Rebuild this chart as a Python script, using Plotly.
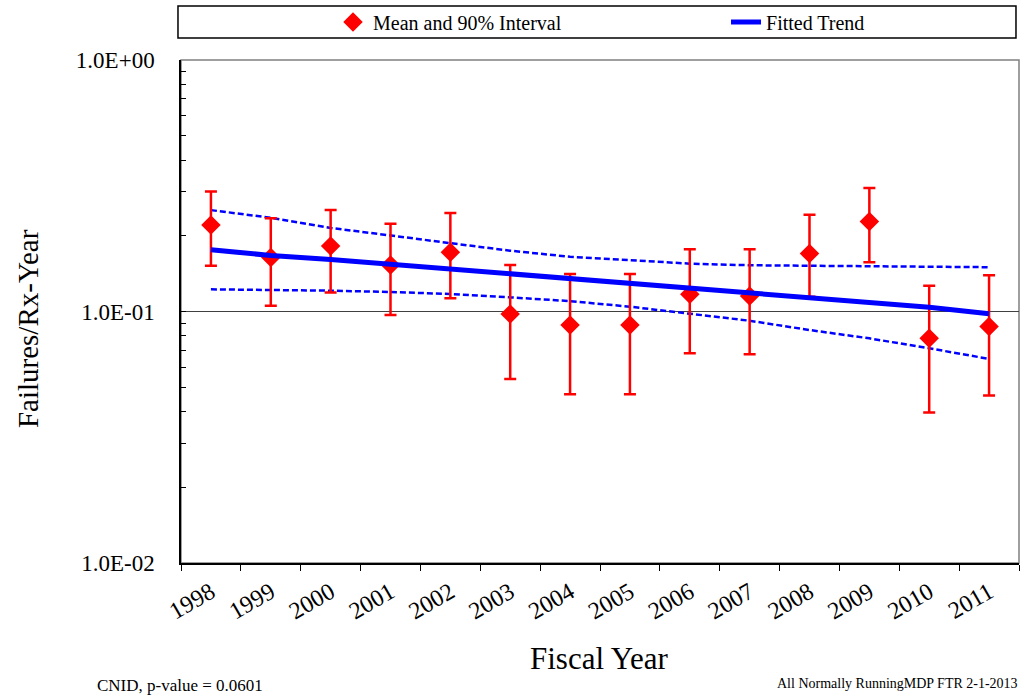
import plotly.graph_objects as go

years = ["1998", "1999", "2000", "2001", "2002", "2003", "2004",
         "2005", "2006", "2007", "2008", "2009", "2010", "2011"]
mean_vals = [0.221, 0.164, 0.182, 0.153, 0.172, 0.0977, 0.0884,
             0.0884, 0.117, 0.1153, 0.170, 0.228, 0.0782, 0.0871]
upper_90 = [0.300, 0.235, 0.253, 0.2235, 0.2464, 0.153, 0.141,
            0.141, 0.1768, 0.1768, 0.2426, 0.310, 0.1267, 0.1393]
lower_90 = [0.152, 0.1055, 0.119, 0.0968, 0.113, 0.0539, 0.0469,
            0.0469, 0.0682, 0.0676, 0.1145, 0.157, 0.0397, 0.0463]
trend = [0.176, 0.167, 0.161, 0.154, 0.148, 0.142, 0.136,
         0.130, 0.124, 0.119, 0.114, 0.109, 0.104, 0.098]
trend_upper = [0.253, 0.236, 0.215, 0.200, 0.187, 0.1745, 0.165,
               0.160, 0.155, 0.1527, 0.152, 0.151, 0.150, 0.150]
trend_lower = [0.1225, 0.122, 0.121, 0.1196, 0.1174, 0.1138, 0.110,
               0.1045, 0.0983, 0.0919, 0.0844, 0.0782, 0.0714, 0.0648]

y_tickvals = []
y_ticktext = []
for dec in [0.01, 0.1]:
    for m in range(1, 10):
        y_tickvals.append(dec * m)
        y_ticktext.append("%.1E" % (dec * m) if m == 1 else "")
y_tickvals.append(1.0)
y_ticktext.append("1.0E+00")

FONT = "Liberation Serif"

err_plus = [u - m for u, m in zip(upper_90, mean_vals)]
err_minus = [m - l for m, l in zip(mean_vals, lower_90)]

fig = go.Figure()

fig.add_trace(go.Scatter(
    x=years, y=trend_upper, mode="lines", showlegend=False,
    line=dict(color="#0000FF", width=2.5, dash="6px,3px"), hoverinfo="skip"))
fig.add_trace(go.Scatter(
    x=years, y=trend_lower, mode="lines", showlegend=False,
    line=dict(color="#0000FF", width=2.5, dash="6px,3px"), hoverinfo="skip"))
fig.add_trace(go.Scatter(
    x=years, y=mean_vals, mode="markers", name="Mean and 90% Interval",
    marker=dict(symbol="diamond", size=15, color="#FF0000"),
    error_y=dict(type="data", symmetric=False, array=err_plus,
                 arrayminus=err_minus, color="#FF0000", thickness=2.5, width=6)))
fig.add_trace(go.Scatter(
    x=years, y=trend, mode="lines", name="Fitted Trend",
    line=dict(color="#0000FF", width=5)))

fig.update_layout(
    width=1029, height=698,
    margin=dict(l=181, r=10, t=60, b=135, autoexpand=False),
    paper_bgcolor="white", plot_bgcolor="white",
    font=dict(family=FONT, color="black"),
    showlegend=True,
    legend=dict(orientation="h", x=0.1814, xanchor="left", y=1.0755, yanchor="middle",
                font=dict(family=FONT, size=20), bgcolor="rgba(0,0,0,0)",
                entrywidth=348, entrywidthmode="pixels", traceorder="normal"),
    xaxis=dict(type="category", tickson="boundaries", ticks="outside", ticklen=6,
               tickcolor="black", showline=True, linecolor="black", linewidth=1.5,
               showgrid=False, tickangle=-30, tickfont=dict(family=FONT, size=24),
               ticklabelstandoff=4, range=[-0.5, 13.5]),
    yaxis=dict(type="log", range=[-2, 0], tickvals=y_tickvals, ticktext=y_ticktext,
               ticks="inside", ticklen=5, tickcolor="black", showline=True,
               linecolor="black", linewidth=1.5, showgrid=False, zeroline=False,
               tickfont=dict(family=FONT, size=23), ticklabelstandoff=20),
    shapes=[
        dict(type="rect", xref="paper", yref="paper", x0=0, x1=1, y0=0, y1=1,
             line=dict(color="#808080", width=1.5), layer="below"),
        dict(type="line", xref="paper", yref="y", x0=0, x1=1, y0=0.1, y1=0.1,
             line=dict(color="#404040", width=1.2), layer="below"),
        dict(type="rect", xref="paper", yref="paper", x0=-0.0036, x1=0.9964,
             y0=1.0437, y1=1.1074, line=dict(color="black", width=1.5)),
    ],
    annotations=[
        dict(text="Failures/Rx-Year", xref="paper", yref="paper", x=-0.1826, y=0.467,
             xanchor="center", yanchor="middle", textangle=-90, showarrow=False,
             font=dict(family=FONT, size=29)),
        dict(text="Fiscal Year", xref="paper", yref="paper", x=0.4988, y=-0.189,
             xanchor="center", yanchor="middle", showarrow=False,
             font=dict(family=FONT, size=31)),
        dict(text="CNID, p-value = 0.0601", xref="paper", yref="paper", x=-0.1026,
             y=-0.2445, xanchor="left", yanchor="middle", showarrow=False,
             font=dict(family=FONT, size=17)),
        dict(text="All Normally RunningMDP FTR 2-1-2013", xref="paper", yref="paper",
             x=1.0012, y=-0.239, xanchor="right", yanchor="middle", showarrow=False,
             font=dict(family=FONT, size=14)),
    ],
)

fig.write_html("out.html")
